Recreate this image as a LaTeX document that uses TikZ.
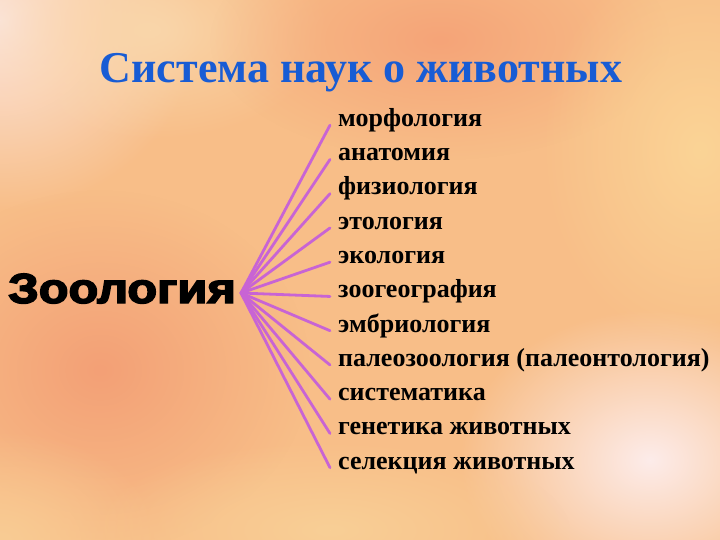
\documentclass[tikz,border=0pt]{standalone}
\usepackage{fontspec}
\setmainfont{Liberation Serif}
\newfontfamily\zoofont[FakeBold=3.5]{Liberation Sans Bold}
\usetikzlibrary{fadings,calc}
\definecolor{bgbase}{HTML}{F8BE88}
\definecolor{titleblue}{RGB}{24,92,212}
\definecolor{linkc}{HTML}{C864D4}
\tikzfading[name=blob, inner color=transparent!0, outer color=transparent!100]
\tikzset{
  item/.style={anchor=base west, inner sep=0pt, font=\fontsize{26}{28}\selectfont\bfseries},
  link/.style={draw=linkc, line width=2.8pt, line cap=round},
}
\begin{document}
\begin{tikzpicture}[x=1pt,y=1pt]
\useasboundingbox (0,0) rectangle (720,-540);
\fill[bgbase] (0,0) rectangle (720,-540);
\begin{scope}
\clip (0,0) rectangle (720,-540);
\fill[color={rgb,255:red,252;green,230;blue,222}, path fading=blob] (0,-20) ellipse (200 and 190);
\fill[color={rgb,255:red,250;green,214;blue,170}, path fading=blob] (150,-30) ellipse (180 and 110);
\fill[color={rgb,255:red,245;green,164;blue,120}, path fading=blob] (440,-40) ellipse (230 and 120);
\fill[color={rgb,255:red,243;green,160;blue,118}, path fading=blob] (100,-370) ellipse (210 and 180);
\fill[color={rgb,255:red,249;green,204;blue,148}, path fading=blob] (0,-540) ellipse (160 and 110);
\fill[color={rgb,255:red,251;green,212;blue,150}, path fading=blob] (700,-150) ellipse (160 and 200);
\fill[color={rgb,255:red,253;green,236;blue,234}, path fading=blob] (650,-460) ellipse (190 and 150);
\fill[color={rgb,255:red,249;green,207;blue,150}, path fading=blob] (330,-530) ellipse (240 and 90);
\end{scope}

\node[font=\fontsize{44}{48}\selectfont\bfseries, text=titleblue, anchor=base, inner sep=0pt] (title) at (361,-83) {Система наук о животных};
\node[font=\zoofont\fontsize{42}{46}\selectfont, anchor=base east, inner sep=0pt] (zoo) at (236,-303) {\scalebox{1.16}[1]{Зоология}};
\coordinate (hub) at (241,-293);

\node[item] (i1) at (338,-126.5) {морфология};
\node[item] (i2) at (338,-160.75) {анатомия};
\node[item] (i3) at (338,-195) {физиология};
\node[item] (i4) at (338,-229.25) {этология};
\node[item] (i5) at (338,-263.5) {экология};
\node[item] (i6) at (338,-297.75) {зоогеография};
\node[item] (i7) at (338,-332) {эмбриология};
\node[item] (i8) at (338,-366.25) {палеозоология (палеонтология)};
\node[item] (i9) at (338,-400.5) {систематика};
\node[item] (i10) at (338,-434.75) {генетика животных};
\node[item] (i11) at (338,-469) {селекция животных};

\foreach \i in {1,...,11} {
  \draw[link] (hub) -- ($(i\i.base west)+(-8,1.3)$);
}
\end{tikzpicture}
\end{document}
